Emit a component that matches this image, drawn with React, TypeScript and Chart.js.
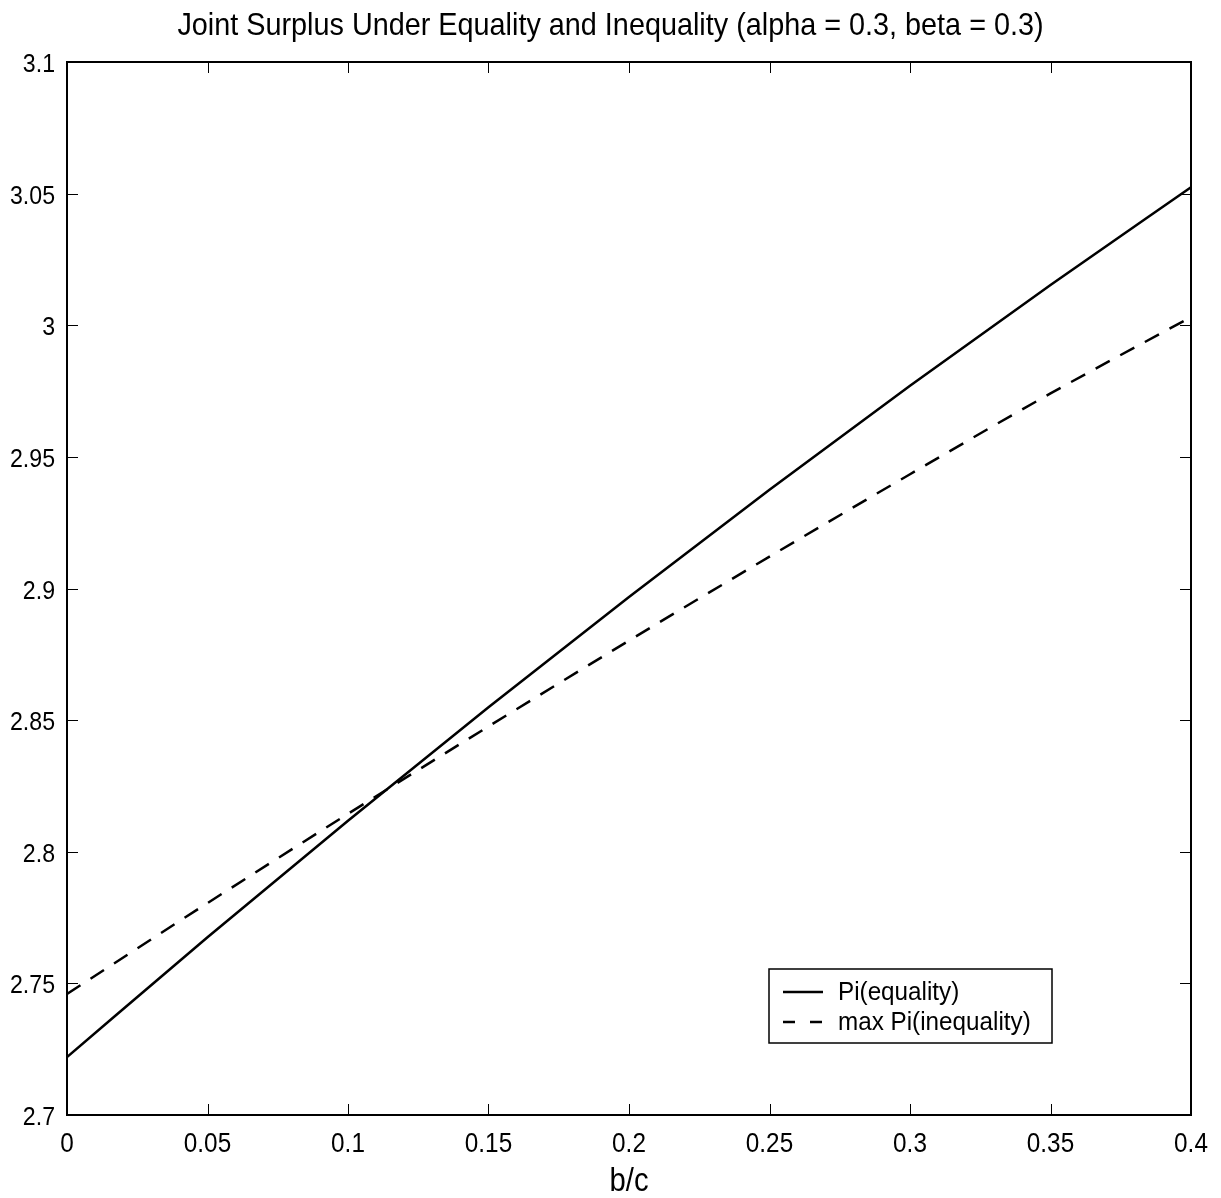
import React, { useEffect, useRef } from "react";
import { Chart, registerables } from "chart.js";

Chart.register(...registerables);

const bcValues = [0, 0.05, 0.1, 0.15, 0.2, 0.25, 0.3, 0.35, 0.4];
const piEquality = [2.722, 2.7675, 2.8118, 2.8549, 2.8968, 2.9375, 2.977, 3.0153, 3.0524];
const maxPiInequality = [2.746, 2.7805, 2.8144, 2.8476, 2.8802, 2.9121, 2.9434, 2.9741, 3.0031];

const xTickValues = [0, 0.05, 0.1, 0.15, 0.2, 0.25, 0.3, 0.35, 0.4];
const xTickLabels = ["0", "0.05", "0.1", "0.15", "0.2", "0.25", "0.3", "0.35", "0.4"];
const yTickValues = [2.7, 2.75, 2.8, 2.85, 2.9, 2.95, 3, 3.05, 3.1];
const yTickLabels = ["2.7", "2.75", "2.8", "2.85", "2.9", "2.95", "3", "3.05", "3.1"];

const seriesLabels = ["Pi(equality)", "max Pi(inequality)"];
const chartTitle = "Joint Surplus Under Equality and Inequality (alpha = 0.3, beta = 0.3)";
const xAxisTitle = "b/c";
const FONT = "'Liberation Sans', Arial, Helvetica, sans-serif";

function drawText(ctx: any, text: string, x: number, y: number, size: number, sx: number, align: string) {
  ctx.save();
  ctx.font = `${size}px ${FONT}`;
  ctx.fillStyle = "#000";
  ctx.textBaseline = "alphabetic";
  ctx.textAlign = align;
  ctx.translate(x, y);
  ctx.scale(sx, 1);
  ctx.fillText(text, 0, 0);
  ctx.restore();
}

const framePlugin = {
  id: "matlabFrame",
  afterDraw(chart: any) {
    const { ctx, chartArea } = chart;
    const { left, right, top, bottom } = chartArea;
    const xs = chart.scales.x;
    const ys = chart.scales.y;
    const tl = 11;
    ctx.save();
    ctx.strokeStyle = "#000";
    ctx.lineWidth = 1;
    ctx.beginPath();
    xTickValues.forEach((v) => {
      const px = Math.round(xs.getPixelForValue(v)) + 0.5;
      ctx.moveTo(px, bottom);
      ctx.lineTo(px, bottom - tl);
      ctx.moveTo(px, top);
      ctx.lineTo(px, top + tl);
    });
    yTickValues.forEach((v) => {
      const py = Math.round(ys.getPixelForValue(v)) + 0.5;
      ctx.moveTo(left, py);
      ctx.lineTo(left + tl, py);
      ctx.moveTo(right, py);
      ctx.lineTo(right - tl, py);
    });
    ctx.stroke();
    ctx.lineWidth = 2;
    ctx.strokeRect(left, top, right - left, bottom - top);

    // tick labels (condensed)
    xTickValues.forEach((v, i) => {
      drawText(ctx, xTickLabels[i], xs.getPixelForValue(v), bottom + 37, 27, 0.9, "center");
    });
    yTickValues.forEach((v, i) => {
      drawText(ctx, yTickLabels[i], left - 12, ys.getPixelForValue(v) + 10, 26, 0.89, "right");
    });

    // titles
    drawText(ctx, chartTitle, chart.width / 2, 35, 32, 0.9, "center");
    drawText(ctx, xAxisTitle, (left + right) / 2, 1191, 34, 0.86, "center");

    // legend
    const bx = 769, by = 969, bw = 283, bh = 74;
    ctx.fillStyle = "#fff";
    ctx.fillRect(bx, by, bw, bh);
    ctx.lineWidth = 1.5;
    ctx.strokeRect(bx, by, bw, bh);
    const rows = [992, 1022];
    chart.data.datasets.forEach((ds: any, i: number) => {
      const yy = rows[i];
      ctx.beginPath();
      ctx.lineWidth = 2.5;
      ctx.setLineDash(i === 1 ? [12, 15] : []);
      ctx.moveTo(783, yy);
      ctx.lineTo(823, yy);
      ctx.stroke();
      ctx.setLineDash([]);
      drawText(ctx, ds.label, 838, yy + 8, 25, 0.97, "left");
    });
    ctx.restore();
  },
};

export default function App() {
  const canvasRef = useRef<HTMLCanvasElement | null>(null);

  useEffect(() => {
    if (!canvasRef.current) return;
    const chart = new Chart(canvasRef.current, {
      type: "line",
      data: {
        datasets: [
          {
            label: seriesLabels[0],
            data: bcValues.map((x, i) => ({ x, y: piEquality[i] })),
            borderColor: "#000",
            borderWidth: 2.5,
            pointRadius: 0,
            cubicInterpolationMode: "monotone",
            fill: false,
          },
          {
            label: seriesLabels[1],
            data: bcValues.map((x, i) => ({ x, y: maxPiInequality[i] })),
            borderColor: "#000",
            borderWidth: 2.5,
            borderDash: [16, 12],
            pointRadius: 0,
            cubicInterpolationMode: "monotone",
            fill: false,
          },
        ],
      },
      options: {
        animation: false,
        responsive: false,
        devicePixelRatio: 1,
        layout: { padding: { left: 0, right: 30, top: 62, bottom: 0 } },
        plugins: {
          legend: { display: false },
          tooltip: { enabled: false },
          title: { display: false },
        },
        scales: {
          x: {
            type: "linear",
            min: 0,
            max: 0.4,
            grid: { display: false, drawTicks: false },
            border: { display: false },
            afterBuildTicks: (scale: any) => {
              scale.ticks = xTickValues.map((v) => ({ value: v }));
            },
            afterFit: (scale: any) => {
              scale.height = 83;
            },
            ticks: { display: false },
          },
          y: {
            type: "linear",
            min: 2.7,
            max: 3.1,
            grid: { display: false, drawTicks: false },
            border: { display: false },
            afterBuildTicks: (scale: any) => {
              scale.ticks = yTickValues.map((v) => ({ value: v }));
            },
            afterFit: (scale: any) => {
              scale.width = 67;
            },
            ticks: { display: false },
          },
        },
      },
      plugins: [framePlugin],
    });
    return () => chart.destroy();
  }, []);

  return (
    <div style={{ position: "absolute", left: 0, top: 0, width: 1221, height: 1198, background: "#fff" }}>
      <canvas ref={canvasRef} width={1221} height={1198} style={{ width: 1221, height: 1198, display: "block" }} />
    </div>
  );
}
